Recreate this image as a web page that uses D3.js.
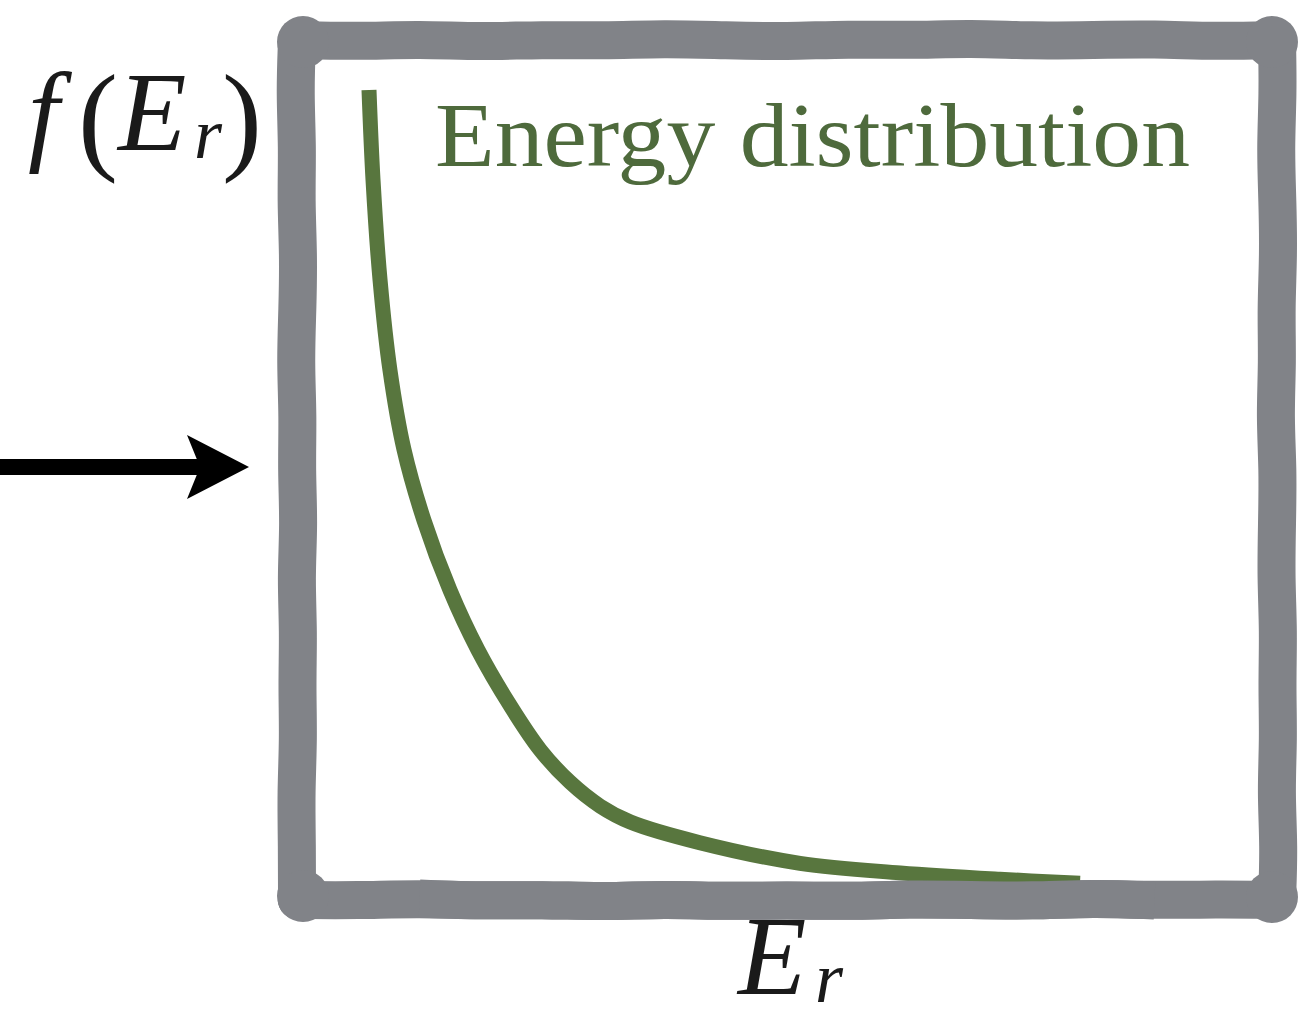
<!DOCTYPE html>
<html lang="en">
	<head>
		<meta charset="utf-8">
		<title>Energy distribution</title>
		<script type="text/javascript" src="https://cdn.jsdelivr.net/npm/d3@7"></script>
		<style type="text/css">
			body { margin: 0; background: #fff; }
			text { font-family: "Liberation Serif", "DejaVu Serif", serif; }
		</style>
	</head>
	<body>
		<script type="text/javascript">

			//Width and height
			let w = 1312;
			let h = 1012;

			//Curve (energy in arbitrary units, density normalised)
			const energy  = [0, 0.056, 0.154, 0.293, 0.489, 0.768, 1.131, 1.52, 1.97, 2.39, 2.81, 3.23, 3.65, 4.62, 6.02, 7.42, 8.81, 9.93];
			const density = [1.0, 0.887, 0.761, 0.647, 0.547, 0.458, 0.370, 0.295, 0.225, 0.169, 0.128, 0.098, 0.078, 0.052, 0.026, 0.014, 0.006, 0.001];

			//Labels
			const title = "Energy distribution";
			const xLabel = ["E", "r"];
			const yLabel = ["f", "(", "E", "r", ")"];

			//Frame (hand drawn box) and colours
			let frame = {left: 297, right: 1277, top: 40, bottom: 900};
			let grey = "#818388";
			let green = "#58763e";
			let titleGreen = "#4e6a3c";
			let ink = "#1a1a1a";

			//Scales
			let x = d3.scaleLinear().domain([0, 10]).range([369, 1085]);
			let y = d3.scaleLinear().domain([0, 1]).range([884, 90]);

			//Create SVG element
			let svg = d3.select("body")
						.append("svg")
						.attr("width", w)
						.attr("height", h);

			//Wobbly frame: small fixed offsets along each side
			let wob = [0, 1.5, -1, 2, -0.5, 1, -1.5, 0.5, 1.5, -1, 0.5, -2, 1, 0, -1, 1.5];
			let n = wob.length;
			let side = (x0, y0, x1, y1, k, horiz)=> {
				let out = [];
				for (let i = 0; i <= n; i++) {
					let t = i / n;
					let o = (i == 0 || i == n) ? 0 : wob[(i + k) % n];
					out.push([x0 + t * (x1 - x0) + (horiz ? 0 : o), y0 + t * (y1 - y0) + (horiz ? o : 0)]);
				}
				return out;
			};
			let topSide = side(frame.left, frame.top, frame.right, frame.top, 0, true);
			let rightSide = side(frame.right, frame.top, frame.right, frame.bottom, 4, false);
			let bottomSide = side(frame.right, frame.bottom, frame.left, frame.bottom, 8, true);
			let leftSide = side(frame.left, frame.bottom, frame.left, frame.top, 12, false);

			let edge = d3.line().curve(d3.curveBasis);

			svg.selectAll("path.edge")
			   .data([topSide, rightSide, bottomSide, leftSide])
			   .enter()
			   .append("path")
			   .attr("class", "edge")
			   .attr("d", edge)
			   .style("fill", "none")
			   .style("stroke", grey)
			   .style("stroke-width", 38)
			   .style("stroke-linecap", "round");

			//Corner blobs
			let corners = [
				[frame.left + 6, frame.top + 2],
				[frame.right - 5, frame.top + 2],
				[frame.right - 5, frame.bottom - 3],
				[frame.left + 6, frame.bottom - 4]
			];
			svg.selectAll("circle.corner")
			   .data(corners)
			   .enter()
			   .append("circle")
			   .attr("class", "corner")
			   .attr("cx", (d)=> d[0])
			   .attr("cy", (d)=> d[1])
			   .attr("r", 26)
			   .style("fill", grey);

			//Energy distribution curve
			let line = d3.line()
						 .x((d, i)=> x(energy[i]))
						 .y((d)=> y(d))
						 .curve(d3.curveCatmullRom.alpha(0.5));

			svg.append("path")
			   .datum(density)
			   .attr("d", line)
			   .style("fill", "none")
			   .style("stroke", green)
			   .style("stroke-width", 15);

			//Bottom edge drawn again on top so the curve sinks into the frame
			svg.append("path")
			   .attr("d", edge(bottomSide.slice(2, n - 1)))
			   .style("fill", "none")
			   .style("stroke", grey)
			   .style("stroke-width", 38);

			//Title
			svg.append("text")
			   .attr("x", 435)
			   .attr("y", 166)
			   .attr("textLength", 755)
			   .attr("lengthAdjust", "spacingAndGlyphs")
			   .style("font-size", "90px")
			   .style("fill", titleGreen)
			   .text(title);

			//Y label f(E_r)
			let yl = svg.append("text")
						.attr("y", 150)
						.style("font-size", "112px")
						.style("fill", ink);
			yl.append("tspan").attr("x", 28).style("font-style", "italic").text(yLabel[0]);
			yl.append("tspan").attr("x", 78).attr("dy", 8).style("font-size", "120px").text(yLabel[1]);
			yl.append("tspan").attr("x", 118).attr("dy", -8).style("font-style", "italic").text(yLabel[2]);
			yl.append("tspan").attr("x", 194).attr("dy", 8).style("font-style", "italic").style("font-size", "72px").text(yLabel[3]);
			yl.append("tspan").attr("x", 222).attr("dy", 0).style("font-size", "120px").text(yLabel[4]);

			//X label E_r
			let xl = svg.append("text")
						.attr("y", 994)
						.style("font-size", "112px")
						.style("font-style", "italic")
						.style("fill", ink);
			xl.append("tspan").attr("x", 738).text(xLabel[0]);
			xl.append("tspan").attr("x", 815).attr("dy", 8).style("font-size", "72px").text(xLabel[1]);

			//Arrow pointing into the frame
			svg.append("rect")
			   .attr("x", 0)
			   .attr("y", 459)
			   .attr("width", 205)
			   .attr("height", 16)
			   .style("fill", "#000");
			svg.append("path")
			   .attr("d", "M249,467 L187,435 L200,467 L187,499 Z")
			   .style("fill", "#000");

		</script>
	</body>
</html>
